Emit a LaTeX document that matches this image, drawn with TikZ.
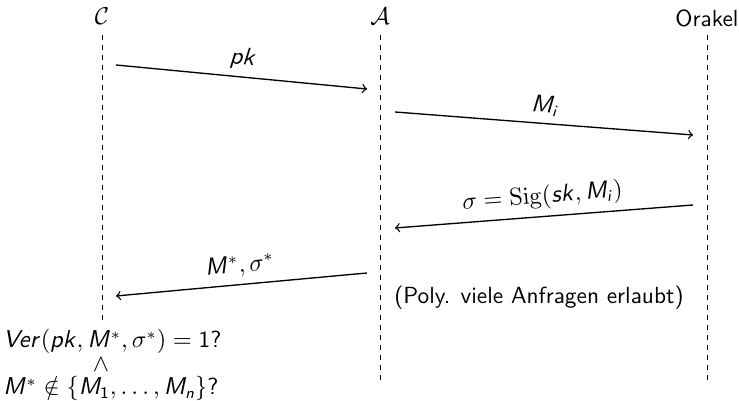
\documentclass[tikz,border=0pt]{standalone}
\usepackage{amsmath}
\renewcommand\familydefault{\sfdefault}
\DeclareMathAlphabet{\mathsfit}{OT1}{cmss}{m}{sl}
\newcommand\mv[1]{\mathsfit{#1}}
\newcommand\mn[1]{\text{#1}}
\tikzset{
  lifeline/.style={dash pattern=on 2.2pt off 2.3pt, line width=0.4pt},
  msg/.style={->, semithick},
  lbl/.style={midway, above, sloped, inner sep=3pt},
  actor/.style={anchor=base, inner sep=0pt},
}
\begin{document}
\begin{tikzpicture}[x=0.45pt, y=-0.45pt, font=\fontsize{10.5pt}{13pt}\selectfont]
\useasboundingbox (0,0) rectangle (739,401);
% actors
\node[actor] (C) at (102,25) {$\mathcal{C}$};
\node[actor] (A) at (380,25) {$\mathcal{A}$};
\node[actor] (O) at (707,27) {Orakel};
% lifeline ends
\coordinate (Ct) at (102,35); \coordinate (Cb) at (102,322);
\coordinate (At) at (380,35); \coordinate (Ab) at (380,385);
\coordinate (Ot) at (707,35); \coordinate (Ob) at (707,385);
\draw[lifeline] (Ct) -- (Cb);
\draw[lifeline] (At) -- (Ab);
\draw[lifeline] (Ot) -- (Ob);
% message end points
\coordinate (m1s) at (116,65);  \coordinate (m1e) at (367,89);
\coordinate (m2s) at (395,112); \coordinate (m2e) at (693,135);
\coordinate (m3s) at (693,205); \coordinate (m3e) at (395,228);
\coordinate (m4s) at (367,273); \coordinate (m4e) at (116,296);
\draw[msg] (m1s) -- node[lbl] (l1) {$\mv{pk}$} (m1e);
\draw[msg] (m2s) -- node[lbl] (l2) {$\mv{M}_{\mv{i}}$} (m2e);
\draw[msg] (m3s) -- node[lbl] (l3) {$\sigma = \mathrm{Sig}(\mv{sk}, \mv{M}_{\mv{i}})$} (m3e);
\draw[msg] (m4s) -- node[lbl] (l4) {$\mv{M}^*, \sigma^*$} (m4e);
% note
\node (poly) at (539,298) {(Poly. viele Anfragen erlaubt)};
% verification
\node[anchor=base west, inner sep=0pt] (ver) at (3,348) {$\mv{Ver}(\mv{pk}, \mv{M}^*, \sigma^*) = \mn{1?}$};
\node[anchor=base, inner sep=0pt] (and) at (101,372) {$\wedge$};
\node[anchor=base west, inner sep=0pt] (notin) at (3,395) {$\mv{M}^* \notin \{\mv{M}_{\mn{1}}, \ldots, \mv{M}_{\mv{n}}\}\mn{?}$};
\end{tikzpicture}
\end{document}
